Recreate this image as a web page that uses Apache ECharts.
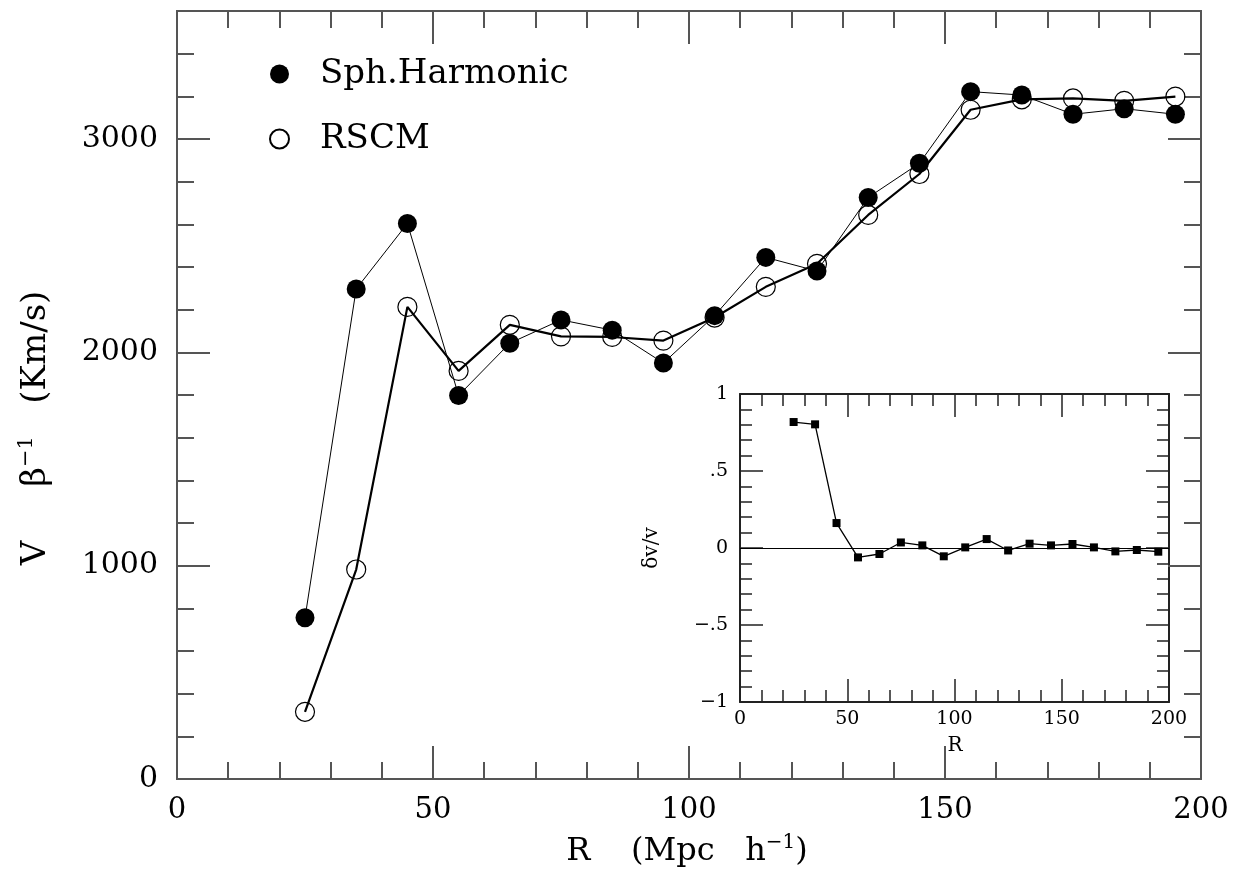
<!DOCTYPE html>
<html>
<head>
<meta charset="utf-8">
<script src="https://cdn.jsdelivr.net/npm/echarts@6/dist/echarts.min.js"></script>
<style>
html,body{margin:0;padding:0;background:#ffffff;}
#chart{width:1238px;height:878px;}
</style>
</head>
<body>
<div id="chart"></div>
<script>
// ---- data ----
const radii = [25, 35, 45, 55, 65, 75, 85, 95, 105, 115, 125, 135, 145, 155, 165, 175, 185, 195];
const sphHarmonic = [756, 2297, 2604, 1798, 2043, 2152, 2104, 1950, 2172, 2445, 2381, 2726, 2886, 3222, 3206, 3116, 3142, 3116];
const rscm = [315, 982, 2213, 1913, 2129, 2075, 2072, 2055, 2163, 2307, 2415, 2644, 2836, 3137, 3186, 3190, 3179, 3199];
const deltaVoverV = [0.818, 0.803, 0.162, -0.061, -0.039, 0.036, 0.017, -0.054, 0.004, 0.058, -0.016, 0.028, 0.017, 0.026, 0.004, -0.022, -0.013, -0.024];
const insetYTickValues = [-1, -0.5, 0, 0.5, 1];
const insetYTickLabels = ['\u22121', '\u2212.5', '0', '.5', '1'];
const seriesNames = ['Sph.Harmonic', 'RSCM'];

const FONT = 'DejaVu Serif';
const AX = '#555';
const INK = '#000';

function pairs(xs, ys) { return xs.map((x, i) => [x, ys[i]]); }
function plain(v) { return String(v); }

function mainX(pos, labels) {
  return {
    type: 'value', gridIndex: 0, position: pos, min: 0, max: 200, interval: 50,
    axisLine: { show: true, onZero: false, lineStyle: { color: AX, width: 2 } },
    axisTick: { show: true, inside: true, length: 33, lineStyle: { color: AX, width: 2 } },
    minorTick: { show: true, splitNumber: 5, length: 17, lineStyle: { color: AX, width: 2 } },
    axisLabel: { show: labels, margin: 17, fontSize: 29, fontFamily: FONT, color: INK, formatter: plain },
    splitLine: { show: false }, minorSplitLine: { show: false }
  };
}
function mainY(pos, interval, len, labels) {
  return {
    type: 'value', gridIndex: 0, position: pos, min: 0, max: 3600, interval: interval,
    axisLine: { show: true, onZero: false, lineStyle: { color: AX, width: 2 } },
    axisTick: { show: true, inside: true, length: len, lineStyle: { color: AX, width: 2 } },
    axisLabel: { show: labels, margin: 19, fontSize: 30, fontFamily: FONT, color: INK, showMaxLabel: false, formatter: plain },
    splitLine: { show: false }
  };
}
function insetX(pos, labels) {
  return {
    type: 'value', gridIndex: 1, position: pos, min: 0, max: 200, interval: 50,
    axisLine: { show: true, onZero: false, lineStyle: { color: '#222', width: 2 } },
    axisTick: { show: true, inside: true, length: 23, lineStyle: { color: '#222', width: 1.5 } },
    minorTick: { show: true, splitNumber: 5, length: 12, lineStyle: { color: '#222', width: 1.5 } },
    axisLabel: { show: labels, margin: 8, fontSize: 19, fontFamily: FONT, color: INK, formatter: plain },
    splitLine: { show: false }
  };
}
function insetY(pos, labels) {
  return {
    type: 'value', gridIndex: 1, position: pos, min: -1, max: 1, interval: 0.5,
    axisLine: { show: true, onZero: false, lineStyle: { color: '#222', width: 2 } },
    axisTick: { show: true, inside: true, length: 23, lineStyle: { color: '#222', width: 1.5 } },
    minorTick: { show: true, splitNumber: 5, length: 12, lineStyle: { color: '#222', width: 1.5 } },
    axisLabel: {
      show: labels, margin: 12, fontSize: 19, fontFamily: FONT, color: INK,
      formatter: function (v) {
        const i = insetYTickValues.findIndex(t => Math.abs(t - v) < 1e-9);
        return i >= 0 ? insetYTickLabels[i] : '';
      }
    },
    splitLine: { show: false }
  };
}

const chart = echarts.init(document.getElementById('chart'), null, { renderer: 'canvas' });
const option = {
  animation: false,
  backgroundColor: '#ffffff',
  grid: [
    { left: 177, top: 11, width: 1024, height: 768, containLabel: false },
    { left: 740, top: 394, width: 429, height: 308, containLabel: false, show: true, backgroundColor: '#ffffff', borderWidth: 0 }
  ],
  xAxis: [mainX('bottom', true), mainX('top', false), insetX('bottom', true), insetX('top', false)],
  yAxis: [
    mainY('left', 1000, 33, true), mainY('left', 200, 17, false),
    mainY('right', 1000, 33, false), mainY('right', 200, 17, false),
    insetY('left', true), insetY('right', false)
  ],
  legend: {
    data: seriesNames,
    orient: 'vertical',
    left: 269, top: 54, padding: 0,
    itemWidth: 19, itemHeight: 19, itemGap: 25,
    icon: 'circle',
    textStyle: { fontSize: 34, fontFamily: FONT, color: INK, lineHeight: 40, padding: [0, 0, 0, 26] }
  },
  series: [
    {
      name: seriesNames[1], type: 'line', xAxisIndex: 0, yAxisIndex: 0,
      data: pairs(radii, rscm),
      symbol: 'circle', symbolSize: 19,
      itemStyle: { color: 'rgba(0,0,0,0)', borderColor: '#000', borderWidth: 1.2 },
      lineStyle: { color: '#000', width: 2.2 },
      z: 2
    },
    {
      name: seriesNames[0], type: 'line', xAxisIndex: 0, yAxisIndex: 0,
      data: pairs(radii, sphHarmonic),
      symbol: 'circle', symbolSize: 19,
      itemStyle: { color: '#000', borderWidth: 0 },
      lineStyle: { color: '#000', width: 1 },
      z: 3
    },
    {
      name: 'deltaV', type: 'line', xAxisIndex: 2, yAxisIndex: 4,
      data: pairs(radii, deltaVoverV),
      symbol: 'rect', symbolSize: 8,
      itemStyle: { color: '#000' },
      lineStyle: { color: '#000', width: 1.3 },
      markLine: {
        silent: true, symbol: ['none', 'none'], label: { show: false },
        lineStyle: { color: '#000', width: 1, type: 'solid' },
        data: [{ yAxis: 0 }]
      },
      z: 5
    }
  ],
  graphic: [
    {
      type: 'text', x: 687, y: 852,
      style: {
        text: 'R    (Mpc   h{s|\u22121})',
        fontSize: 32, fontFamily: FONT, fill: INK, lineHeight: 38,
        align: 'center', verticalAlign: 'middle',
        rich: { s: { fontSize: 20, fontFamily: FONT, fill: INK, lineHeight: 20, verticalAlign: 'top' } }
      }
    },
    {
      type: 'text', x: 36, y: 428, rotation: Math.PI / 2,
      style: {
        text: 'V     \u03b2{s|\u22121}   (Km/s)',
        fontSize: 34, fontFamily: FONT, fill: INK, lineHeight: 40,
        align: 'center', verticalAlign: 'middle',
        rich: { s: { fontSize: 21, fontFamily: FONT, fill: INK, lineHeight: 21, verticalAlign: 'top' } }
      }
    },
    {
      type: 'text', x: 955, y: 746,
      style: { text: 'R', fontSize: 20, fontFamily: FONT, fill: INK, align: 'center', verticalAlign: 'middle' }
    },
    {
      type: 'text', x: 652, y: 548, rotation: Math.PI / 2,
      style: { text: '\u03b4v/v', fontSize: 20, fontFamily: FONT, fill: INK, align: 'center', verticalAlign: 'middle' }
    }
  ]
};
chart.setOption(option);
</script>
</body>
</html>
